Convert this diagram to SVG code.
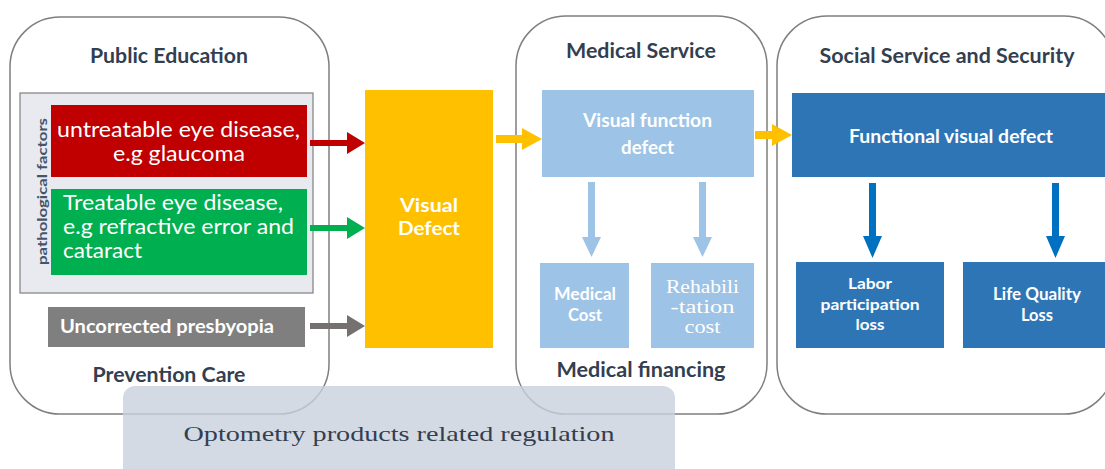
<svg xmlns="http://www.w3.org/2000/svg" width="1105" height="469" viewBox="0 0 1105 469">
<style>
.panel{fill:#ffffff;stroke:#7f7f7f;stroke-width:1.5}
.title{font-family:Lato,"Liberation Sans",sans-serif;font-weight:bold;font-size:20px;fill:#333f50;text-anchor:middle}
.wb{font-family:Lato,"Liberation Sans",sans-serif;font-weight:bold;fill:#ffffff;text-anchor:middle}
.wr{font-family:Lato,"Liberation Sans",sans-serif;font-size:21px;fill:#ffffff}
.mono{font-family:"Liberation Serif",serif}
</style>
<rect width="1105" height="469" fill="#ffffff"/>

<g id="panel-public-education">
<rect class="panel" x="10" y="17" width="319" height="397" rx="50"/>
<text class="title" x="169" y="63" textLength="158" lengthAdjust="spacingAndGlyphs">Public Education</text>
<text class="title" x="169" y="382" textLength="153" lengthAdjust="spacingAndGlyphs">Prevention Care</text>
</g>

<g id="panel-medical-service">
<rect class="panel" x="516" y="16" width="251" height="398" rx="50"/>
<text class="title" x="641" y="58" textLength="150" lengthAdjust="spacingAndGlyphs">Medical Service</text>
<text class="title" x="641" y="377" textLength="169" lengthAdjust="spacingAndGlyphs">Medical financing</text>
</g>

<g id="panel-social-service">
<rect class="panel" x="777" y="16" width="337" height="398" rx="50"/>
<text class="title" x="947" y="63" textLength="255" lengthAdjust="spacingAndGlyphs">Social Service and Security</text>
</g>

<g id="pathological-factors">
<rect x="20" y="93" width="293" height="200" fill="#e8eaef" stroke="#7f7f7f" stroke-width="1.2"/>
<text transform="translate(46.5,191.5) rotate(-90)" font-family="Lato,'Liberation Sans',sans-serif" font-weight="bold" font-size="13" fill="#44546a" text-anchor="middle" textLength="147" lengthAdjust="spacingAndGlyphs">pathological factors</text>
</g>

<g id="untreatable">
<rect x="51" y="105" width="256" height="72" fill="#c00000"/>
<text class="wr" x="178.5" y="137" text-anchor="middle" textLength="243" lengthAdjust="spacingAndGlyphs">untreatable eye disease,</text>
<text class="wr" x="179" y="161" text-anchor="middle" textLength="132" lengthAdjust="spacingAndGlyphs">e.g glaucoma</text>
</g>

<g id="treatable">
<rect x="51" y="189" width="256" height="86" fill="#00b050"/>
<text class="wr" x="63" y="210" textLength="220" lengthAdjust="spacingAndGlyphs">Treatable eye disease,</text>
<text class="wr" x="63" y="234" textLength="231" lengthAdjust="spacingAndGlyphs">e.g refractive error and</text>
<text class="wr" x="63" y="258" textLength="79" lengthAdjust="spacingAndGlyphs">cataract</text>
</g>

<g id="presbyopia">
<rect x="48" y="307" width="257" height="40" fill="#7f7f7f"/>
<text class="wb" x="60" y="333" font-size="18" style="text-anchor:start" textLength="214" lengthAdjust="spacingAndGlyphs">Uncorrected presbyopia</text>
</g>

<g id="visual-defect">
<rect x="365" y="90" width="128" height="258" fill="#ffc000"/>
<text class="wb" x="429" y="212" font-size="19" textLength="58" lengthAdjust="spacingAndGlyphs">Visual</text>
<text class="wb" x="429" y="235" font-size="19" textLength="62" lengthAdjust="spacingAndGlyphs">Defect</text>
</g>

<g id="visual-function-defect">
<rect x="542" y="90" width="212" height="87" fill="#9dc3e6"/>
<text class="wb" x="647.5" y="127" font-size="18" textLength="129" lengthAdjust="spacingAndGlyphs">Visual function</text>
<text class="wb" x="647.5" y="154" font-size="18" textLength="53" lengthAdjust="spacingAndGlyphs">defect</text>
</g>

<g id="medical-cost">
<rect x="540" y="263" width="89" height="85" fill="#9dc3e6"/>
<text class="wb" x="585" y="300" font-size="16.5" textLength="62" lengthAdjust="spacingAndGlyphs">Medical</text>
<text class="wb" x="585" y="321" font-size="16.5" textLength="34" lengthAdjust="spacingAndGlyphs">Cost</text>
</g>

<g id="rehabilitation-cost">
<rect x="651" y="263" width="103" height="85" fill="#9dc3e6"/>
<text class="mono" x="702.5" y="293" font-size="18" fill="#ffffff" text-anchor="middle" textLength="73" lengthAdjust="spacingAndGlyphs">Rehabili</text>
<text class="mono" x="702.5" y="313" font-size="18" fill="#ffffff" text-anchor="middle" textLength="64" lengthAdjust="spacingAndGlyphs">-tation</text>
<text class="mono" x="702.5" y="333" font-size="18" fill="#ffffff" text-anchor="middle" textLength="36" lengthAdjust="spacingAndGlyphs">cost</text>
</g>

<g id="functional-visual-defect">
<rect x="792" y="93" width="320" height="84" fill="#2e75b6"/>
<text class="wb" x="951" y="143" font-size="18" textLength="204" lengthAdjust="spacingAndGlyphs">Functional visual defect</text>
</g>

<g id="labor-participation-loss">
<rect x="796" y="262" width="148" height="86" fill="#2e75b6"/>
<text class="wb" x="870" y="289" font-size="16" textLength="44" lengthAdjust="spacingAndGlyphs">Labor</text>
<text class="wb" x="870" y="310" font-size="16" textLength="99" lengthAdjust="spacingAndGlyphs">participation</text>
<text class="wb" x="870" y="330" font-size="16" textLength="29" lengthAdjust="spacingAndGlyphs">loss</text>
</g>

<g id="life-quality-loss">
<rect x="963" y="262" width="150" height="86" fill="#2e75b6"/>
<text class="wb" x="1037" y="300" font-size="16.5" textLength="88" lengthAdjust="spacingAndGlyphs">Life Quality</text>
<text class="wb" x="1037" y="321" font-size="16.5" textLength="32" lengthAdjust="spacingAndGlyphs">Loss</text>
</g>

<g id="connectors">
<polygon fill="#c00000" points="310,140 347,140 347,132 365,143 347,154 347,146 310,146"/>
<polygon fill="#00b050" points="310,225 347,225 347,217 365,228 347,239 347,231 310,231"/>
<polygon fill="#767171" points="310,323 347,323 347,315 365,326 347,337 347,329 310,329"/>
<polygon fill="#ffc000" points="496,135 522,135 522,128 542,139 522,150 522,143 496,143"/>
<polygon fill="#ffc000" points="755,131 772,131 772,124 792,135 772,146 772,139 755,139"/>
<polygon fill="#9dc3e6" points="588,182 595,182 595,237 601,237 591.5,257 582,237 588,237"/>
<polygon fill="#9dc3e6" points="699,182 706,182 706,237 712,237 702.5,257 693,237 699,237"/>
<polygon fill="#0070c0" points="869,183 876,183 876,236 882,236 872.5,258 863,236 869,236"/>
<polygon fill="#0070c0" points="1052,183 1059,183 1059,236 1065,236 1055.5,258 1046,236 1052,236"/>
</g>

<g id="regulation">
<rect x="123" y="386" width="552" height="100" rx="12" fill="#c9d1dc" fill-opacity="0.8"/>
<text class="mono" x="399" y="441" font-size="21" fill="#333f50" text-anchor="middle" textLength="431" lengthAdjust="spacingAndGlyphs">Optometry products related regulation</text>
</g>
</svg>
